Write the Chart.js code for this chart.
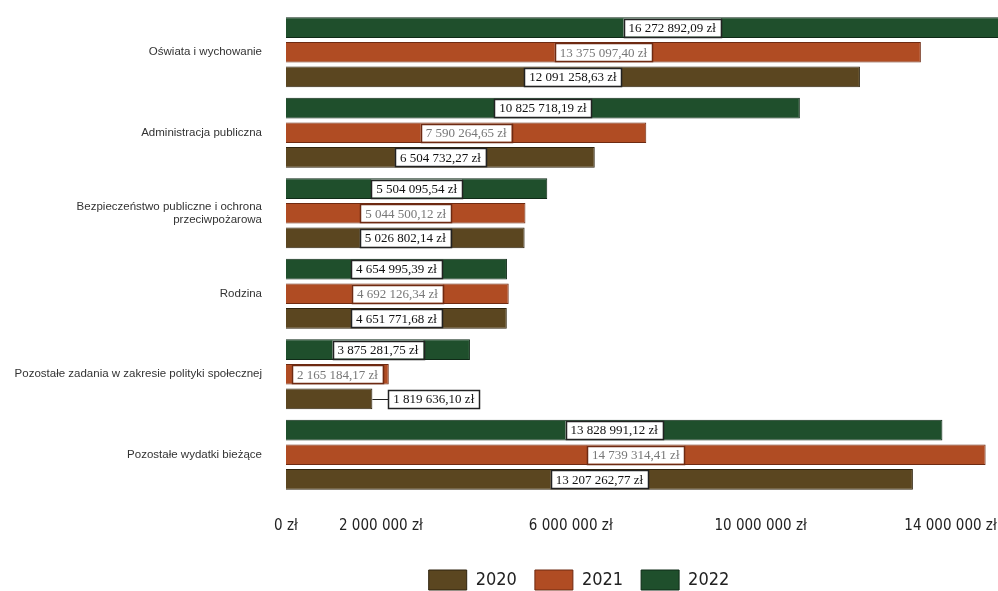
<!DOCTYPE html>
<html>
<head>
<meta charset="utf-8">
<script src="https://cdn.jsdelivr.net/npm/chart.js@4/dist/chart.umd.min.js"></script>
<style>
    html, body { margin: 0; padding: 0; background: #fff; }
    #wrap { width: 998px; height: 591px; }
</style>
</head>
<body>
<div id="wrap"><canvas id="chart" width="998" height="591"></canvas></div>
<script>
'use strict';

// categories, top to bottom
const categories = [
    'Oświata i wychowanie',
    'Administracja publiczna',
    ['Bezpieczeństwo publiczne i ochrona', 'przeciwpożarowa'],
    'Rodzina',
    'Pozostałe zadania w zakresie polityki społecznej',
    'Pozostałe wydatki bieżące'
];

const years = ['2020', '2021', '2022'];

const values2020 = [12091258.63, 6504732.27, 5026802.14, 4651771.68, 1819636.10, 13207262.77];
const values2021 = [13375097.40, 7590264.65, 5044500.12, 4692126.34, 2165184.17, 14739314.41];
const values2022 = [16272892.09, 10825718.19, 5504095.54, 4654995.39, 3875281.75, 13828991.12];

const tickValues = [0, 2000000, 6000000, 10000000, 14000000];

const colors = {
    '2020': '#5b4620',
    '2021': '#b04c23',
    '2022': '#1f4f2c'
};
const borders = {
    '2020': '#2e230e',
    '2021': '#6e2a12',
    '2022': '#0f2a17'
};

// "16 272 892,09 zł"
const formatZl = function (v, decimals) {
    let fixed = v.toFixed(decimals);
    let parts = fixed.split('.');
    let intPart = parts[0].replace(/\B(?=(\d{3})+(?!\d))/g, ' ');
    return intPart + (decimals ? ',' + parts[1] : '') + ' zł';
};

// boxed value labels on each bar
const valueLabels = {
    id: 'valueLabels',
    afterDatasetsDraw: function (chart) {
        const ctx = chart.ctx;
        ctx.save();
        ctx.font = '13px "Liberation Serif", "Times New Roman", serif';
        ctx.textBaseline = 'middle';
        ctx.textAlign = 'center';

        chart.data.datasets.forEach(function (ds, di) {
            let meta = chart.getDatasetMeta(di);
            meta.data.forEach(function (bar, i) {
                let text = formatZl(ds.data[i], 2);
                let tw = ctx.measureText(text).width;
                let bw = tw + 10;
                let bh = 18;
                let barW = bar.x - bar.base;
                let cx;
                if (barW > bw + 4) {
                    cx = (bar.x + bar.base) / 2;
                } else {
                    // not enough room: put it to the right with a leader line
                    let left = bar.x + 16;
                    cx = left + bw / 2;
                    ctx.strokeStyle = '#222';
                    ctx.lineWidth = 1;
                    ctx.beginPath();
                    ctx.moveTo(bar.x, Math.round(bar.y) + 0.5);
                    ctx.lineTo(left, Math.round(bar.y) + 0.5);
                    ctx.stroke();
                }
                ctx.fillStyle = '#fff';
                ctx.fillRect(cx - bw / 2, bar.y - bh / 2, bw, bh);
                ctx.strokeStyle = ds.label === '2021' ? '#6e2a12' : '#222';
                ctx.lineWidth = 1.5;
                ctx.strokeRect(Math.round(cx - bw / 2) + 0.5, Math.round(bar.y - bh / 2) + 0.5, Math.round(bw), bh);
                ctx.fillStyle = ds.label === '2021' ? '#777' : '#111';
                ctx.fillText(text, cx, bar.y + 1);
            });
        });
        ctx.restore();
    }
};

// nudge the legend under the plot like in the original
const legendShift = {
    id: 'legendShift',
    afterLayout: function (chart) {
        let lg = chart.legend;
        lg.left += 80;
        lg.right += 80;
        lg.top += 9;
        lg.bottom += 9;
    }
};

const datasets = [
    { label: '2022', data: values2022 },
    { label: '2021', data: values2021 },
    { label: '2020', data: values2020 }
].map(function (d) {
    return {
        label: d.label,
        data: d.data,
        backgroundColor: colors[d.label],
        borderColor: borders[d.label],
        borderWidth: 1,
        categoryPercentage: 0.92,
        barPercentage: 0.84
    };
});

const CONFIG = {
    type: 'bar',
    data: {
        labels: categories,
        datasets: datasets
    },
    options: {
        indexAxis: 'y',
        responsive: false,
        animation: false,
        layout: {
            padding: { top: 12, right: 0, bottom: 0, left: 0 }
        },
        scales: {
            x: {
                min: 0,
                max: 15000000,
                grid: { display: false, drawTicks: false },
                border: { display: false },
                afterBuildTicks: function (scale) {
                    scale.ticks = tickValues.map(function (v) { return { value: v }; });
                },
                afterFit: function (scale) {
                    scale.height = 48;
                    scale.paddingLeft = 0;
                    scale.paddingRight = 0;
                },
                ticks: {
                    padding: 22,
                    maxRotation: 0,
                    autoSkip: false,
                    color: '#222',
                    font: { family: '"Liberation Sans Narrow", "DejaVu Sans Condensed", sans-serif', size: 15 },
                    callback: function (v) {
                        return formatZl(v, 0);
                    }
                }
            },
            y: {
                grid: { display: false, drawTicks: false },
                border: { display: false },
                afterFit: function (scale) {
                    scale.width = 286;
                    scale.paddingTop = 0;
                    scale.paddingBottom = 0;
                },
                ticks: {
                    padding: 24,
                    color: '#333',
                    font: { family: '"Liberation Sans", Arial, sans-serif', size: 11.5 }
                }
            }
        },
        plugins: {
            legend: {
                position: 'bottom',
                reverse: true,
                labels: {
                    boxWidth: 38,
                    boxHeight: 20,
                    padding: 18,
                    color: '#222',
                    font: { family: '"Liberation Sans Narrow", "DejaVu Sans Condensed", sans-serif', size: 18 }
                }
            },
            tooltip: { enabled: false }
        }
    },
    plugins: [valueLabels, legendShift]
};

const chart = new Chart(document.querySelector('#chart'), CONFIG);
</script>
</body>
</html>
